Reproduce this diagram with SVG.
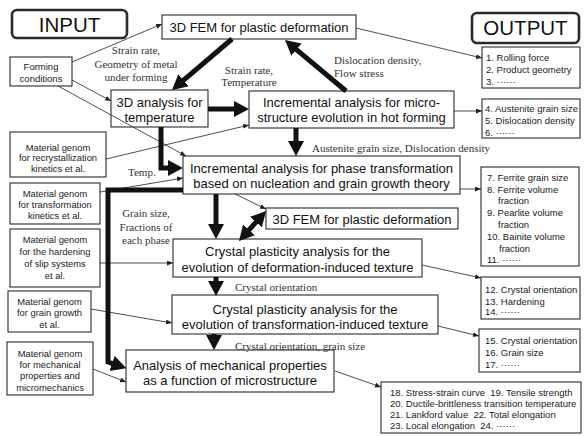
<svg xmlns="http://www.w3.org/2000/svg" width="585" height="436" viewBox="0 0 585 436">
<style>
.bg{fill:#fff}
.box{fill:#fff;stroke:#2a2a2a;stroke-width:1.1}
.io{fill:#fff;stroke:#2a2a2a;stroke-width:2.6}
.t13{font-family:"Liberation Sans",Arial,sans-serif;font-size:13px;fill:#111;text-anchor:middle}
.t20{font-family:"Liberation Sans",Arial,sans-serif;font-size:20.5px;fill:#111;text-anchor:middle}
.t10{font-family:"Liberation Sans",Arial,sans-serif;font-size:9.5px;fill:#1a1a1a;white-space:pre}
.t9{font-family:"Liberation Sans",Arial,sans-serif;font-size:9.4px;fill:#1a1a1a;text-anchor:middle}
.lab{font-family:"Liberation Serif","Times New Roman",serif;font-size:11px;fill:#333}
.thick{fill:none;stroke:#111;stroke-width:5;stroke-linejoin:miter}
.thin{fill:none;stroke:#222;stroke-width:0.8}
</style>
<defs>
<marker id="big" markerUnits="userSpaceOnUse" markerWidth="16" markerHeight="17" refX="9" refY="8" orient="auto-start-reverse">
<path d="M0,0 L15,8 L0,16 z" fill="#111"/>
</marker>
<marker id="small" markerUnits="userSpaceOnUse" markerWidth="7" markerHeight="6" refX="6" refY="2.5" orient="auto">
<path d="M0,0 L6,2.5 L0,5 z" fill="#222"/>
</marker>
</defs>
<rect class="bg" width="585" height="436"/>

<g id="input"><rect class="io" x="12" y="10" width="115" height="28" rx="5"/><text class="t20" x="69.5" y="31.5">INPUT</text></g>
<g id="output"><rect class="io" x="472" y="13" width="107" height="30" rx="5"/><text class="t20" x="525.5" y="35">OUTPUT</text></g>

<g id="fem1"><rect class="box" x="162" y="15" width="194" height="24"/><text class="t13" x="259" y="32">3D FEM for plastic deformation</text></g>
<g id="forming"><rect class="box" x="10" y="57" width="62" height="29"/><text class="t10" x="41" y="70" text-anchor="middle">Forming</text><text class="t10" x="41" y="81.5" text-anchor="middle">conditions</text></g>
<g id="temp"><rect class="box" x="111" y="90" width="97" height="37"/><text class="t13" x="159.5" y="106.5">3D analysis for</text><text class="t13" x="159.5" y="121.5">temperature</text></g>
<g id="micro"><rect class="box" x="249" y="91" width="205" height="37"/><text class="t13" x="351.5" y="106.5">Incremental analysis for micro-</text><text class="t13" x="351.5" y="122">structure evolution in hot forming</text></g>
<g id="phase"><rect class="box" x="183" y="156" width="277" height="38"/><text class="t13" x="321.5" y="172.5">Incremental analysis for phase transformation</text><text class="t13" x="321.5" y="187.5">based on nucleation and grain growth theory</text></g>
<g id="fem2"><rect class="box" x="266" y="208" width="192" height="21"/><text class="t13" x="362" y="223.5">3D FEM for plastic deformation</text></g>
<g id="cp1"><rect class="box" x="173" y="239" width="249" height="38"/><text class="t13" x="297.5" y="255.5">Crystal plasticity analysis for the</text><text class="t13" x="297.5" y="272">evolution of deformation-induced texture</text></g>
<g id="cp2"><rect class="box" x="172" y="295" width="266" height="39"/><text class="t13" x="305" y="313.5">Crystal plasticity analysis for the</text><text class="t13" x="305" y="328.5">evolution of transformation-induced texture</text></g>
<g id="mech"><rect class="box" x="126" y="350" width="208" height="42"/><text class="t13" x="230" y="369.5">Analysis of mechanical properties</text><text class="t13" x="230" y="384.5">as a function of microstructure</text></g>

<g id="mg1"><rect class="box" x="10" y="132" width="96" height="45"/><text class="t9" x="58" y="150.5">Material genom</text><text class="t9" x="58" y="161">for recrystallization</text><text class="t9" x="58" y="171.5">kinetics et al.</text></g>
<g id="mg2"><rect class="box" x="10" y="183" width="90" height="41"/><text class="t9" x="55" y="196.5">Material genom</text><text class="t9" x="55" y="207.5">for transformation</text><text class="t9" x="55" y="219">kinetics et al.</text></g>
<g id="mg3"><rect class="box" x="10" y="229" width="90" height="58"/><text class="t9" x="55" y="242.5">Material genom</text><text class="t9" x="55" y="254.5">for the hardening</text><text class="t9" x="55" y="266.5">of slip systems</text><text class="t9" x="55" y="278.5">et al.</text></g>
<g id="mg4"><rect class="box" x="8" y="291" width="83" height="41"/><text class="t9" x="49.5" y="304.5">Material genom</text><text class="t9" x="49.5" y="316">for grain growth</text><text class="t9" x="49.5" y="327.5">et al.</text></g>
<g id="mg5"><rect class="box" x="7" y="342" width="86" height="53"/><text class="t9" x="50" y="356.5">Material genom</text><text class="t9" x="50" y="367.5">for mechanical</text><text class="t9" x="50" y="379">properties and</text><text class="t9" x="50" y="390.5">micromechanics</text></g>

<g id="out1"><rect class="box" x="482" y="47" width="98" height="41"/><text class="t10" x="486" y="60.5">1. Rolling force</text><text class="t10" x="486" y="72.5">2. Product geometry</text><text class="t10" x="486" y="84.5">3. ······</text></g>
<g id="out2"><rect class="box" x="482" y="99" width="98" height="39"/><text class="t10" x="485" y="111.5">4. Austenite grain size</text><text class="t10" x="485" y="124">5. Dislocation density</text><text class="t10" x="485" y="135.5">6. ······</text></g>
<g id="out3"><rect class="box" x="481" y="167" width="98" height="99"/><text class="t10" x="487" y="180.5">7. Ferrite grain size</text><text class="t10" x="487" y="192.5">8. Ferrite volume</text><text class="t10" x="498" y="204">fraction</text><text class="t10" x="487" y="215.5">9. Pearlite volume</text><text class="t10" x="498" y="227.5">fraction</text><text class="t10" x="487" y="239.5">10. Bainite volume</text><text class="t10" x="499" y="251.5">fraction</text><text class="t10" x="487" y="262.5">11. ······</text></g>
<g id="out4"><rect class="box" x="481" y="277" width="99" height="42"/><text class="t10" x="485" y="292.5">12. Crystal orientation</text><text class="t10" x="485" y="304.5">13. Hardening</text><text class="t10" x="485" y="315">14. ······</text></g>
<g id="out5"><rect class="box" x="479" y="329" width="101" height="43"/><text class="t10" x="485" y="343.5">15. Crystal orientation</text><text class="t10" x="485" y="355.5">16. Grain size</text><text class="t10" x="485" y="367.5">17. ······</text></g>
<g id="out6"><rect class="box" x="381" y="382" width="200" height="51"/><text class="t10" x="390" y="395.5">18. Stress-strain curve  19. Tensile strength</text><text class="t10" x="390" y="406.5">20. Ductile-brittleness transition temperature</text><text class="t10" x="390" y="417.5">21. Lankford value  22. Total elongation</text><text class="t10" x="390" y="428.5">23. Local elongation  24. ······</text></g>

<g id="connectors">
<path class="thin" marker-end="url(#small)" d="M72,62 L162,24"/>
<path class="thin" marker-end="url(#small)" d="M72,80 L111,101"/>
<path class="thin" marker-end="url(#small)" d="M58,86 L186,156"/>
<path class="thin" marker-end="url(#small)" d="M106,159 L249,125"/>
<path class="thin" marker-end="url(#small)" d="M100,192 L183,178"/>
<path class="thin" marker-end="url(#small)" d="M100,263 L173,263"/>
<path class="thin" marker-end="url(#small)" d="M91,309 L172,323"/>
<path class="thin" marker-end="url(#small)" d="M93,369 L126,382"/>
<path class="thin" marker-end="url(#small)" d="M356,28 L482,58"/>
<path class="thin" marker-end="url(#small)" d="M454,111 L482,111"/>
<path class="thin" marker-end="url(#small)" d="M460,189 L481,189"/>
<path class="thin" marker-end="url(#small)" d="M422,265 L481,278"/>
<path class="thin" marker-end="url(#small)" d="M438,326 L479,336"/>
<path class="thin" marker-end="url(#small)" d="M335,371 L381,387"/>
<path class="thin" marker-end="url(#small)" d="M235,194 L266,209"/>

<path class="thick" marker-end="url(#big)" d="M232,39 L176.6,86.1"/>
<path class="thick" marker-end="url(#big)" d="M346,91 L289.6,43.8"/>
<path class="thick" marker-end="url(#big)" d="M208,109 L243,109"/>
<path class="thick" marker-end="url(#big)" d="M296,128 L296,150"/>
<path class="thick" marker-end="url(#big)" d="M161,127 L161,168 L177,168"/>
<path class="thick" marker-end="url(#big)" d="M183,190 L108,190 L108,362 L120.6,366.3"/>
<path class="thick" marker-end="url(#big)" d="M216,194 L216,233"/>
<path class="thick" marker-start="url(#big)" marker-end="url(#big)" d="M243,236.5 L262,215.5"/>
<path class="thick" marker-end="url(#big)" d="M216,277 L216,290"/>
<path class="thick" marker-end="url(#big)" d="M214,334 L214,344"/>
</g>

<g id="labels">
<text class="lab" x="136" y="54" text-anchor="middle">Strain rate,</text>
<text class="lab" x="136" y="67.5" text-anchor="middle">Geometry of metal</text>
<text class="lab" x="136" y="81" text-anchor="middle">under forming</text>
<text class="lab" x="249" y="74" text-anchor="middle">Strain rate,</text>
<text class="lab" x="249" y="86" text-anchor="middle">Temperature</text>
<text class="lab" x="334" y="64">Dislocation density,</text>
<text class="lab" x="334" y="77">Flow stress</text>
<text class="lab" x="312" y="152">Austenite grain size, Dislocation density</text>
<text class="lab" x="128" y="176">Temp.</text>
<text class="lab" x="146" y="217" text-anchor="middle">Grain size,</text>
<text class="lab" x="146" y="231" text-anchor="middle">Fractions of</text>
<text class="lab" x="146" y="244" text-anchor="middle">each phase</text>
<text class="lab" x="235" y="291">Crystal orientation</text>
<text class="lab" x="235" y="350">Crystal orientation, grain size</text>
</g>
</svg>
